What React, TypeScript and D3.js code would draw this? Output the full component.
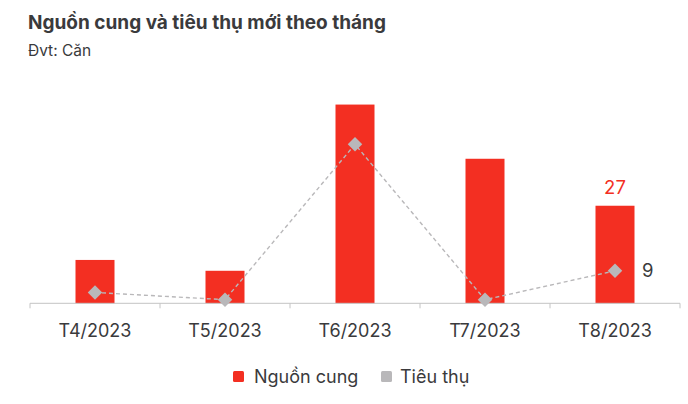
import React from 'react';
import * as d3 from 'd3';

const categories = ['T4/2023', 'T5/2023', 'T6/2023', 'T7/2023', 'T8/2023'];
const supply = [12, 9, 55, 40, 27];
const consumption = [3, 1, 44, 1, 9];

const W = 688;
const H = 404;
const FONT = 'Inter, "Noto Sans", sans-serif';
const RED = '#f32f22';
const GRAY = '#b9b8ba';

export default function App() {
  const x = d3.scaleBand<string>()
    .domain(categories)
    .range([30, 680])
    .paddingInner(0.7)
    .paddingOuter(0.35);

  const y = d3.scaleLinear().domain([0, 60]).range([303.3, 86.5]);

  const cx = (c: string) => (x(c) ?? 0) + x.bandwidth() / 2;

  const line = d3.line<number>()
    .x((_, i) => cx(categories[i]))
    .y(d => y(d));

  const diamond = d3.symbol().type(d3.symbolDiamond2).size(135);

  const boundaries = d3.range(categories.length + 1).map(i => 30 + i * x.step());
  const last = categories.length - 1;

  return (
    <div style={{ position: 'fixed', left: 0, top: 0, width: W, height: H, background: '#fff' }}>
      <svg width={W} height={H} style={{ display: 'block', fontFamily: FONT }}>
        <text x={28} y={29} fontSize={19} fontWeight={700} fill="#3a3a3c">
          Nguồn cung và tiêu thụ mới theo tháng
        </text>
        <text x={28} y={56} fontSize={15.5} fill="#3a3a3c">Đvt: Căn</text>

        {categories.map((c, i) => (
          <rect key={c} x={x(c)} y={y(supply[i])} width={x.bandwidth()}
            height={y(0) - y(supply[i])} fill={RED} />
        ))}

        <line x1={30} x2={680} y1={y(0)} y2={y(0)} stroke="#c4c4c4" strokeWidth={1} />
        {boundaries.map((b, i) => (
          <line key={i} x1={b} x2={b} y1={y(0)} y2={y(0) + 5} stroke="#c4c4c4" strokeWidth={1} />
        ))}

        <path d={line(consumption) ?? ''} fill="none" stroke={GRAY} strokeWidth={1.4} strokeDasharray="4 3" />
        {consumption.map((v, i) => (
          <path key={i} d={diamond() ?? ''} transform={`translate(${cx(categories[i])},${y(v)})`} fill={GRAY} />
        ))}

        <text x={cx(categories[last])} y={y(supply[last]) - 12} fontSize={18.5}
          textAnchor="middle" fill={RED}>{supply[last]}</text>
        <text x={cx(categories[last]) + 27} y={y(consumption[last]) + 6} fontSize={18.5}
          fill="#3a3a3c">{consumption[last]}</text>

        {categories.map(c => (
          <text key={c} x={cx(c)} y={337} fontSize={18} textAnchor="middle" fill="#3a3a3c">{c}</text>
        ))}

        <rect x={233} y={371} width={11} height={11} rx={1.5} fill={RED} />
        <text x={254} y={383} fontSize={18} fill="#3a3a3c">Nguồn cung</text>
        <rect x={381} y={371} width={11} height={11} rx={1.5} fill={GRAY} />
        <text x={400} y={383} fontSize={18} fill="#3a3a3c">Tiêu thụ</text>
      </svg>
    </div>
  );
}
